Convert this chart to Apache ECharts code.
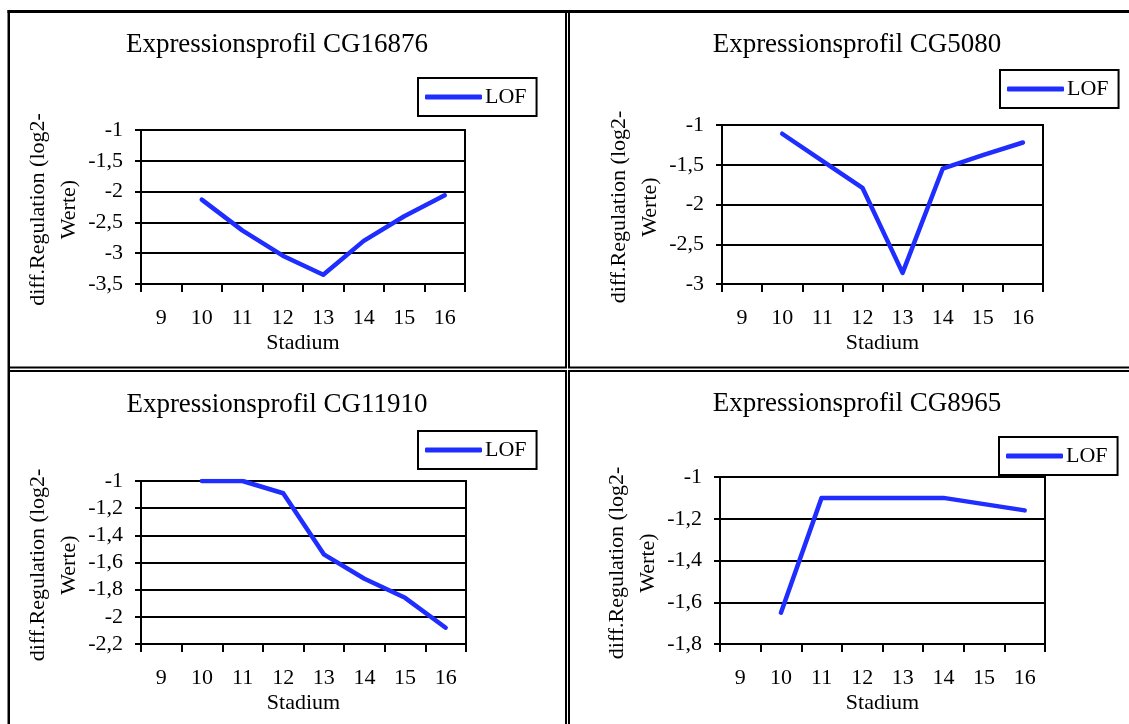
<!DOCTYPE html>
<html>
<head>
<meta charset="utf-8">
<script src="https://cdn.jsdelivr.net/npm/echarts@6/dist/echarts.min.js"></script>
<style>
  html, body { margin: 0; padding: 0; background: #fff; }
  #chart { width: 1129px; height: 724px; }
</style>
</head>
<body>
<div id="chart"></div>
<script>
// Developmental stages on the x axis
const stages = ['9', '10', '11', '12', '13', '14', '15', '16'];

// Differential regulation (log2 values) per gene; stage 9 has no value
const cg16876 = [null, -2.13, -2.63, -3.04, -3.35, -2.80, -2.40, -2.06];
const cg5080  = [null, -1.11, -1.45, -1.79, -2.86, -1.55, -1.38, -1.22];
const cg11910 = [null, -1.00, -1.00, -1.09, -1.54, -1.72, -1.86, -2.08];
const cg8965  = [null, -1.65, -1.10, -1.10, -1.10, -1.10, -1.13, -1.16];

// Panel titles
const titles = [
  'Expressionsprofil CG16876',
  'Expressionsprofil CG5080',
  'Expressionsprofil CG11910',
  'Expressionsprofil CG8965'
];

// Y axis ranges [min, max, step]
const yRanges = [
  [-3.5, -1, 0.5],
  [-3, -1, 0.5],
  [-2.2, -1, 0.2],
  [-1.8, -1, 0.2]
];

const seriesName = 'LOF';
const xName = 'Stadium';
const yName = 'diff.Regulation (log2-\nWerte)';

const values = [cg16876, cg5080, cg11910, cg8965];

// Layout of the four panels
const panels = [
  { tx: 277, ty: 31,  lx: 418, ly: 78,  g: { left: 141, top: 130, width: 324, height: 154 } },
  { tx: 857, ty: 31,  lx: 1000, ly: 70, g: { left: 722, top: 125, width: 321, height: 159 } },
  { tx: 277, ty: 391, lx: 418, ly: 431, g: { left: 141, top: 481, width: 325, height: 163 } },
  { tx: 857, ty: 390, lx: 999, ly: 437, g: { left: 720, top: 477, width: 325, height: 167 } }
];

const FONT = '"Liberation Serif", "Times New Roman", serif';
const BLUE = '#1f2eff';

const fmt = v => String(Math.round(v * 10) / 10).replace('.', ',');

const option = {
  animation: false,
  backgroundColor: '#fff',
  textStyle: { fontFamily: FONT, color: '#000' },
  title: [], legend: [], grid: [], xAxis: [], yAxis: [], series: [],
  graphic: []
};

panels.forEach((p, i) => {
  option.title.push({
    text: titles[i],
    left: p.tx, top: p.ty, textAlign: 'center', padding: 0,
    textStyle: { fontFamily: FONT, fontSize: 27, fontWeight: 'normal', color: '#000' }
  });
  option.legend.push({
    left: p.lx, top: p.ly,
    padding: [8, 10, 8, 7],
    borderColor: '#000', borderWidth: 2,
    itemWidth: 57, itemHeight: 5,
    icon: 'roundRect',
    textStyle: { fontFamily: FONT, fontSize: 22, color: '#000', padding: [0, 0, 0, -2] },
    data: [seriesName]
  });
  option.grid.push(Object.assign({
    show: true, borderColor: '#000', borderWidth: 2, backgroundColor: 'transparent'
  }, p.g));
  option.xAxis.push({
    type: 'category', gridIndex: i, data: stages, boundaryGap: true,
    name: xName, nameLocation: 'middle', nameGap: 48,
    nameTextStyle: { fontFamily: FONT, fontSize: 22, color: '#000' },
    axisLine: { show: true, lineStyle: { color: '#000', width: 2 } },
    axisTick: { show: true, interval: 0, inside: false, length: 8, lineStyle: { color: '#000', width: 2 } },
    axisLabel: { interval: 0, fontFamily: FONT, fontSize: 22, color: '#000', margin: 23 },
    splitLine: { show: false }
  });
  const r = yRanges[i];
  option.yAxis.push({
    type: 'value', gridIndex: i, min: r[0], max: r[1], interval: r[2],
    name: yName, nameLocation: 'middle', nameRotate: 90, nameGap: 56,
    nameTextStyle: { fontFamily: FONT, fontSize: 22, lineHeight: 31, color: '#000', align: 'center', padding: [0, 5, 0, 0] },
    axisLine: { show: true, lineStyle: { color: '#000', width: 2 } },
    axisTick: { show: true, inside: false, length: 6, lineStyle: { color: '#000', width: 2 } },
    axisLabel: { fontFamily: FONT, fontSize: 22, color: '#000', margin: 18, formatter: fmt },
    splitLine: { show: true, lineStyle: { color: '#000', width: 2 } }
  });
  option.series.push({
    name: seriesName, type: 'line', xAxisIndex: i, yAxisIndex: i,
    data: values[i], symbol: 'none', connectNulls: false,
    lineStyle: { color: BLUE, width: 4.5, cap: 'round', join: 'round' },
    itemStyle: { color: BLUE }
  });
});

// Cell frames around the four panels
const frame = (x, y, w, h) => ({
  type: 'rect', silent: true, z: 100,
  shape: { x, y, width: w, height: h },
  style: { fill: 'none', stroke: '#000', lineWidth: 2 }
});
option.graphic = [
  frame(9, 11.5, 557, 356),
  frame(569, 11.5, 620, 356),
  frame(9, 371, 557, 420),
  frame(569, 371, 620, 420),
  { type: 'line', silent: true, z: 101, shape: { x1: 7.5, y1: 11.5, x2: 1129, y2: 11.5 }, style: { stroke: '#000', lineWidth: 3 } },
  { type: 'line', silent: true, z: 101, shape: { x1: 8.75, y1: 10, x2: 8.75, y2: 724 }, style: { stroke: '#000', lineWidth: 2.5 } }
];

const chart = echarts.init(document.getElementById('chart'), null, { renderer: 'canvas' });
chart.setOption(option);
</script>
</body>
</html>
